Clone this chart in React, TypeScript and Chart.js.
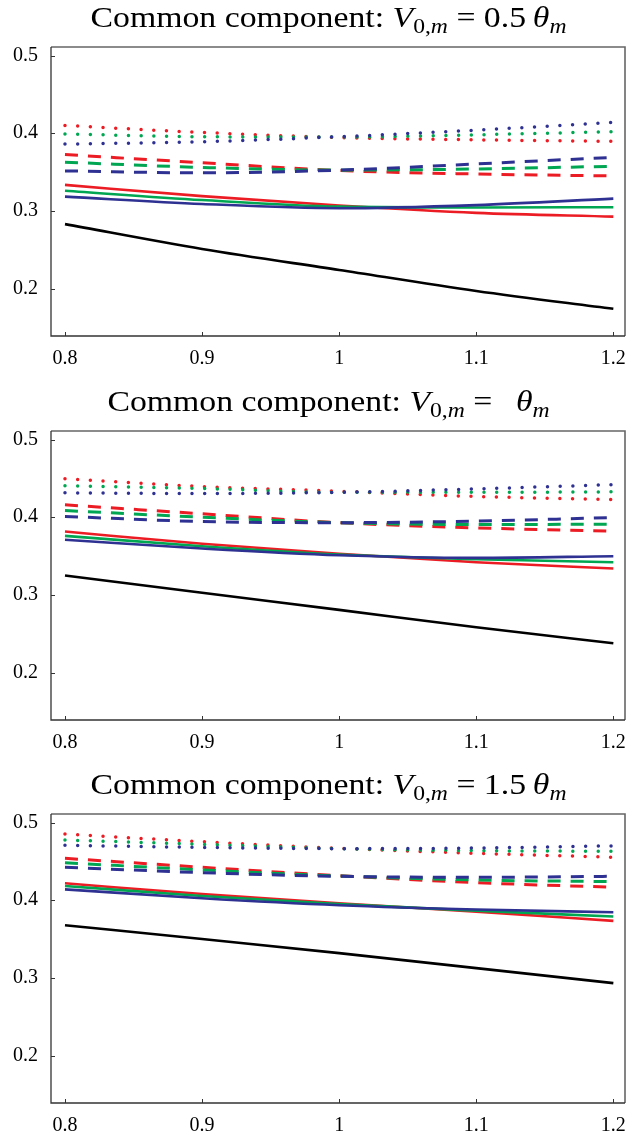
import React, { useEffect, useRef } from "react";
import { Chart, registerables } from "chart.js";

Chart.register(...registerables);

// ---------- data ----------
const X_VALUES = [0.8, 0.9, 1.0, 1.1, 1.2];
const X_TICKS = [0.8, 0.9, 1.0, 1.1, 1.2];
const X_TICK_LABELS = ["0.8", "0.9", "1", "1.1", "1.2"];
const Y_TICKS = [0.2, 0.3, 0.4, 0.5];
const Y_TICK_LABELS = ["0.2", "0.3", "0.4", "0.5"];
const TITLE_COEFFS = ["0.5", "", "1.5"];

// Panel 1: V0,m = 0.5 θm
const P1_BLACK = [0.283, 0.251, 0.224, 0.197, 0.174];
const P1_RED_SOLID = [0.3335, 0.319, 0.307, 0.2975, 0.2927];
const P1_GREEN_SOLID = [0.326, 0.314, 0.3055, 0.3045, 0.3048];
const P1_BLUE_SOLID = [0.3184, 0.309, 0.3035, 0.3075, 0.3158];
const P1_RED_DASHED = [0.3725, 0.362, 0.352, 0.3475, 0.345];
const P1_GREEN_DASHED = [0.3627, 0.356, 0.3525, 0.354, 0.3575];
const P1_BLUE_DASHED = [0.3515, 0.349, 0.3525, 0.3605, 0.369];
const P1_RED_DOTTED = [0.41, 0.401, 0.3945, 0.3915, 0.3895];
const P1_GREEN_DOTTED = [0.399, 0.3955, 0.395, 0.398, 0.402];
const P1_BLUE_DOTTED = [0.386, 0.389, 0.3955, 0.404, 0.414];

// Panel 2: V0,m = θm
const P2_BLACK = [0.325, 0.3027, 0.2808, 0.2584, 0.2378];
const P2_RED_SOLID = [0.3816, 0.3658, 0.353, 0.342, 0.334];
const P2_GREEN_SOLID = [0.376, 0.3627, 0.352, 0.346, 0.342];
const P2_BLUE_SOLID = [0.371, 0.3597, 0.351, 0.3477, 0.3498];
const P2_RED_DASHED = [0.416, 0.4044, 0.393, 0.3863, 0.382];
const P2_GREEN_DASHED = [0.4086, 0.4, 0.393, 0.3906, 0.391];
const P2_BLUE_DASHED = [0.401, 0.3945, 0.393, 0.395, 0.3996];
const P2_RED_DOTTED = [0.4494, 0.4395, 0.4335, 0.4267, 0.4228];
const P2_GREEN_DOTTED = [0.4404, 0.437, 0.432, 0.432, 0.4327];
const P2_BLUE_DOTTED = [0.4314, 0.4305, 0.432, 0.4365, 0.442];

// Panel 3: V0,m = 1.5 θm
const P3_BLACK = [0.3679, 0.35, 0.3319, 0.3126, 0.2933];
const P3_RED_SOLID = [0.4218, 0.408, 0.396, 0.3853, 0.3734];
const P3_GREEN_SOLID = [0.4184, 0.4055, 0.395, 0.3866, 0.379];
const P3_BLUE_SOLID = [0.414, 0.4026, 0.3936, 0.388, 0.3846];
const P3_RED_DASHED = [0.454, 0.4424, 0.4316, 0.4226, 0.4167];
const P3_GREEN_DASHED = [0.4483, 0.439, 0.4312, 0.426, 0.424];
const P3_BLUE_DASHED = [0.4424, 0.4355, 0.4308, 0.4295, 0.4308];
const P3_RED_DOTTED = [0.4852, 0.4753, 0.4668, 0.4604, 0.4553];
const P3_GREEN_DOTTED = [0.4775, 0.472, 0.4664, 0.4638, 0.463];
const P3_BLUE_DOTTED = [0.4707, 0.468, 0.4664, 0.4672, 0.47];

const PANELS = [
  {
    coeff: TITLE_COEFFS[0],
    black: P1_BLACK,
    red: [P1_RED_SOLID, P1_RED_DASHED, P1_RED_DOTTED],
    green: [P1_GREEN_SOLID, P1_GREEN_DASHED, P1_GREEN_DOTTED],
    blue: [P1_BLUE_SOLID, P1_BLUE_DASHED, P1_BLUE_DOTTED],
  },
  {
    coeff: TITLE_COEFFS[1],
    black: P2_BLACK,
    red: [P2_RED_SOLID, P2_RED_DASHED, P2_RED_DOTTED],
    green: [P2_GREEN_SOLID, P2_GREEN_DASHED, P2_GREEN_DOTTED],
    blue: [P2_BLUE_SOLID, P2_BLUE_DASHED, P2_BLUE_DOTTED],
  },
  {
    coeff: TITLE_COEFFS[2],
    black: P3_BLACK,
    red: [P3_RED_SOLID, P3_RED_DASHED, P3_RED_DOTTED],
    green: [P3_GREEN_SOLID, P3_GREEN_DASHED, P3_GREEN_DOTTED],
    blue: [P3_BLUE_SOLID, P3_BLUE_DASHED, P3_BLUE_DOTTED],
  },
];

// ---------- styling ----------
const RED = "#ec1c24";
const GREEN = "#00a651";
const BLUE = "#2e3192";
const SERIF = "'Liberation Serif', 'DejaVu Serif', serif";
const CANVAS_W = 628;
const CANVAS_H = 384;
const PANEL_TOPS = [0, 384, 767];
const AREA_TOP = 47;
const AREA_BOTTOM = 336;
const AREA_LEFT = 51;
const AREA_RIGHT = 625;

type Seg = { t: string; it?: boolean; sub?: boolean };

function titleSegments(coeff: string): Seg[] {
  const segs: Seg[] = [
    { t: "Common component: " },
    { t: "V", it: true },
    { t: "0,", sub: true },
    { t: "m", it: true, sub: true },
    { t: " = " },
  ];
  if (coeff) segs.push({ t: coeff + "\u2009" });
  else segs.push({ t: " \u2009" });
  segs.push({ t: "θ", it: true });
  segs.push({ t: "m", it: true, sub: true });
  return segs;
}

const TITLE_MAIN = 30;
const TITLE_SUB = 21;
const fontFor = (s: Seg) =>
  `${s.it ? "italic " : ""}${s.sub ? TITLE_SUB : TITLE_MAIN}px ${SERIF}`;

function measure(ctx: CanvasRenderingContext2D, segs: Seg[]) {
  let total = 0;
  const widths = segs.map((s) => {
    ctx.font = fontFor(s);
    const w = ctx.measureText(s.t).width;
    total += w;
    return w;
  });
  return { total, widths };
}

const framePlugin = {
  id: "frame",
  afterDatasetsDraw(chart: any, _args: any, opts: any) {
    const { ctx, chartArea } = chart;
    const { left, right, top, bottom } = chartArea;
    ctx.save();
    // box
    ctx.lineWidth = 1.6;
    ctx.strokeStyle = "#666";
    ctx.beginPath();
    ctx.moveTo(left, top);
    ctx.lineTo(right, top);
    ctx.lineTo(right, bottom);
    ctx.stroke();
    ctx.lineWidth = 1.3;
    ctx.strokeStyle = "#333";
    ctx.beginPath();
    ctx.moveTo(left, top);
    ctx.lineTo(left, bottom);
    ctx.lineTo(right, bottom);
    ctx.stroke();
    // inward ticks
    ctx.lineWidth = 1;
    ctx.strokeStyle = "#333";
    const xs = chart.scales.x;
    const ys = chart.scales.y;
    ctx.beginPath();
    for (const v of X_TICKS) {
      const px = Math.round(xs.getPixelForValue(v)) + 0.5;
      ctx.moveTo(px, bottom);
      ctx.lineTo(px, bottom - 4);
    }
    for (const v of Y_TICKS) {
      const py = Math.round(ys.getPixelForValue(v)) + 0.5;
      ctx.moveTo(left, py);
      ctx.lineTo(left + 4, py);
    }
    ctx.stroke();

    // title (LaTeX-like, mixed fonts), stretched to the reference's glyph widths
    const segs: Seg[] = opts.segments || [];
    const refW = measure(ctx, titleSegments(TITLE_COEFFS[0])).total;
    const stretch = opts.refWidth / refW;
    const { total, widths } = measure(ctx, segs);
    ctx.translate(opts.centerX - (total * stretch) / 2, opts.baseY);
    ctx.scale(stretch, 1);
    let x = 0;
    ctx.fillStyle = "#000";
    ctx.textBaseline = "alphabetic";
    ctx.textAlign = "left";
    segs.forEach((s, i) => {
      ctx.font = fontFor(s);
      ctx.fillText(s.t, x, s.sub ? 6 : 0);
      x += widths[i];
    });
    ctx.restore();
  },
};

function makeDatasets(p: any) {
  const mk = (arr: number[], color: string, kind: string) => {
    const base: any = {
      data: X_VALUES.map((x, i) => ({ x, y: arr[i] })),
      borderColor: color,
      backgroundColor: color,
      pointRadius: 0,
      fill: false,
      cubicInterpolationMode: "monotone",
    };
    if (kind === "solid") {
      base.borderWidth = 2.6;
    } else if (kind === "dashed") {
      base.borderWidth = 3;
      base.borderDash = [13, 10];
      base.borderCapStyle = "butt";
    } else {
      base.borderWidth = 3.5;
      base.borderDash = [0, 12.7];
      base.borderCapStyle = "round";
    }
    return base;
  };
  const kinds = ["solid", "dashed", "dotted"];
  const ds: any[] = [];
  kinds.forEach((k, i) => ds.push(mk(p.blue[i], BLUE, k)));
  kinds.forEach((k, i) => ds.push(mk(p.green[i], GREEN, k)));
  kinds.forEach((k, i) => ds.push(mk(p.red[i], RED, k)));
  ds.push(mk(p.black, "#000", "solid"));
  return ds;
}

function Panel({ index }: { index: number }) {
  const ref = useRef<HTMLCanvasElement | null>(null);
  useEffect(() => {
    if (!ref.current) return;
    const p = PANELS[index];
    const chart = new Chart(ref.current, {
      type: "line",
      data: { datasets: makeDatasets(p) },
      plugins: [framePlugin],
      options: {
        animation: false,
        responsive: false,
        maintainAspectRatio: false,
        devicePixelRatio: 1,
        layout: {
          padding: {
            top: AREA_TOP,
            left: 0,
            right: CANVAS_W - AREA_RIGHT,
            bottom: 0,
          },
        },
        plugins: {
          legend: { display: false },
          tooltip: { enabled: false },
          frame: {
            segments: titleSegments(p.coeff),
            centerX: 328.5,
            baseY: 27,
            refWidth: 476,
          },
        } as any,
        scales: {
          x: {
            type: "linear",
            min: 0.7898,
            max: 1.2085,
            grid: { display: false, drawTicks: false },
            border: { display: false },
            afterBuildTicks: (s: any) => {
              s.ticks = X_TICKS.map((v) => ({ value: v }));
            },
            afterFit: (s: any) => {
              s.height = CANVAS_H - AREA_BOTTOM;
              s.paddingLeft = 0;
              s.paddingRight = 0;
            },
            ticks: {
              autoSkip: false,
              maxRotation: 0,
              padding: 11,
              color: "#000",
              font: { family: SERIF, size: 20 },
              callback: (v: any) => {
                const i = X_TICKS.findIndex((t) => Math.abs(t - v) < 1e-6);
                return i >= 0 ? X_TICK_LABELS[i] : "";
              },
            },
          },
          y: {
            type: "linear",
            min: 0.139,
            max: 0.511,
            grid: { display: false, drawTicks: false },
            border: { display: false },
            afterBuildTicks: (s: any) => {
              s.ticks = Y_TICKS.map((v) => ({ value: v }));
            },
            afterFit: (s: any) => {
              s.width = AREA_LEFT;
              s.paddingTop = 0;
              s.paddingBottom = 0;
            },
            ticks: {
              autoSkip: false,
              padding: 13,
              color: "#000",
              font: { family: SERIF, size: 20 },
              callback: (v: any) => {
                const i = Y_TICKS.findIndex((t) => Math.abs(t - v) < 1e-6);
                return i >= 0 ? Y_TICK_LABELS[i] : "";
              },
            },
          },
        },
      } as any,
    });
    return () => chart.destroy();
  }, [index]);
  return (
    <canvas
      ref={ref}
      width={CANVAS_W}
      height={CANVAS_H}
      style={{
        position: "absolute",
        left: 0,
        top: PANEL_TOPS[index],
        width: CANVAS_W,
        height: CANVAS_H,
        display: "block",
      }}
    />
  );
}

export default function App() {
  return (
    <div
      style={{
        position: "absolute",
        left: 0,
        top: 0,
        width: CANVAS_W,
        height: 1141,
        overflow: "hidden",
        background: "#fff",
      }}
    >
      <Panel index={0} />
      <Panel index={1} />
      <Panel index={2} />
    </div>
  );
}
